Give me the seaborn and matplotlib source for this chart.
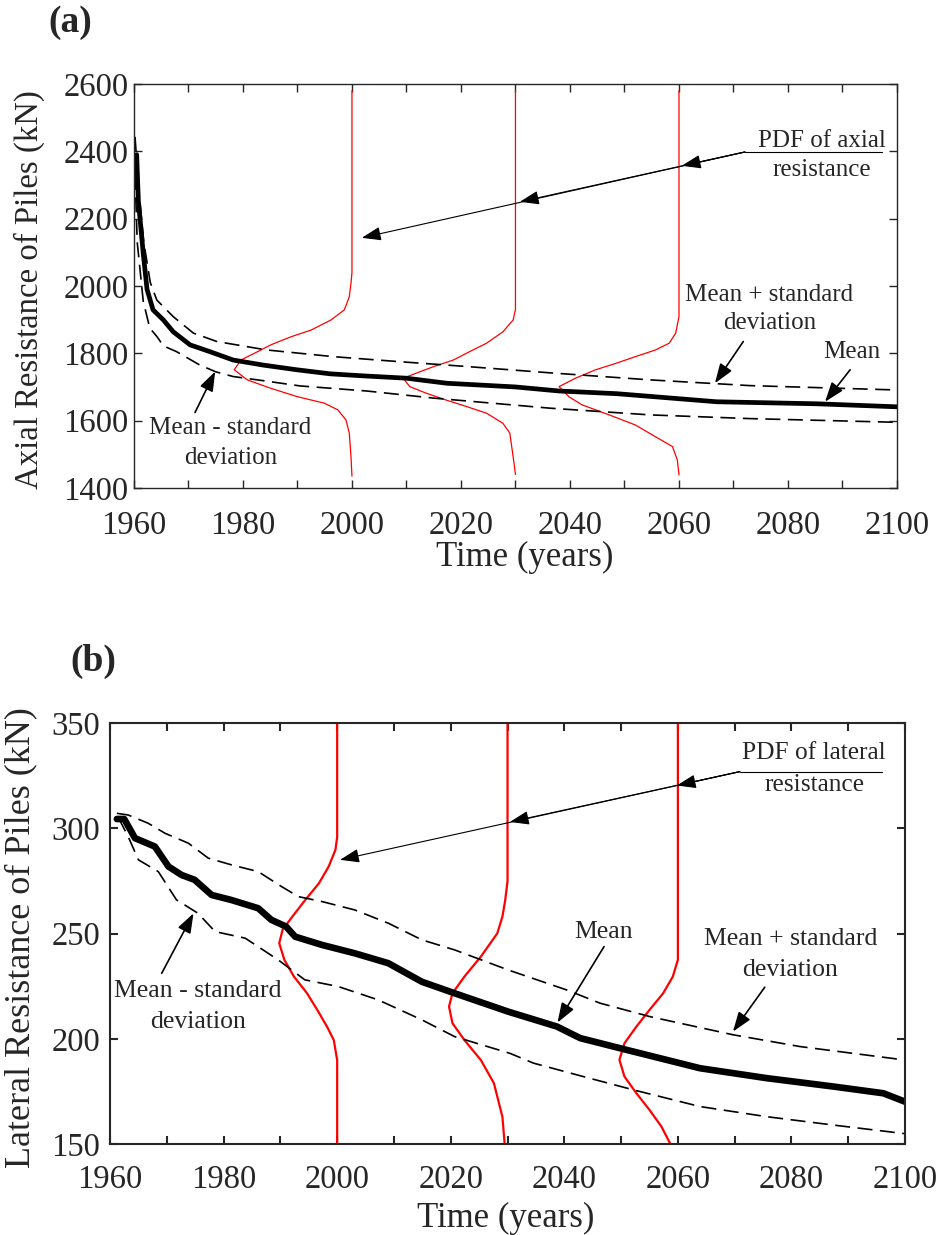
import pandas as pd
import seaborn as sns
import matplotlib.pyplot as plt

sns.set_theme(style="ticks")
plt.rcParams['font.family'] = ['Liberation Serif', 'DejaVu Serif']

# ---------------- (a) axial resistance of piles ----------------
axial_mean_year = [1960.5, 1960.8, 1961.7, 1962.4, 1963.5, 1965.4, 1967.2, 1970.3, 1973.9,
                   1978.2, 1983.7, 1989.9, 1996.0, 2002.0, 2010.0, 2017.4, 2030.0, 2038.0,
                   2048.6, 2066.9, 2085.3, 2100.0]
axial_mean_kn = [2390, 2255, 2097, 1990, 1929, 1899, 1864, 1825, 1805,
                 1780, 1765, 1751, 1739, 1733, 1726, 1711, 1700, 1688,
                 1680, 1656, 1650, 1641]

axial_upper_year = [1960.2, 1960.8, 1961.8, 1963.0, 1964.2, 1967.2, 1970.9, 1975.2, 1984.3,
                    1996.6, 2008.8, 2020.0, 2036.3, 2054.7, 2073.0, 2100.0]
axial_upper_kn = [2443, 2300, 2130, 2010, 1958, 1909, 1860, 1835, 1810,
                  1790, 1775, 1762, 1742, 1721, 1704, 1691]

axial_lower_year = [1960.2, 1960.6, 1961.7, 1962.9, 1964.2, 1965.4, 1967.8, 1972.1, 1975.0,
                    1978.2, 1984.0, 1990.5, 2002.7, 2014.9, 2036.3, 2054.7, 2073.0, 2100.0]
axial_lower_kn = [2330, 2130, 1955, 1875, 1850, 1822, 1805, 1765, 1745,
                  1731, 1718, 1703, 1688, 1667, 1637, 1617, 1606, 1595]

# PDF of axial resistance at 2000, 2030 and 2060 (resistance level, width in years)
axial_pdf_2000_kn = [1435, 1493, 1563, 1602, 1632, 1652, 1671, 1696, 1721, 1751, 1780, 1800,
                     1825, 1849, 1869, 1899, 1929, 1968, 2008, 2040, 2580]
axial_pdf_2000_w = [0, 0.18, 0.49, 1.1, 2.6, 5.1, 10.0, 14.9, 19.2, 21.6, 20.4, 17.9,
                    14.9, 11.2, 7.5, 3.85, 1.4, 0.49, 0.18, 0, 0]
axial_pdf_2030_kn = [1440, 1493, 1563, 1592, 1622, 1642, 1661, 1681, 1701, 1726, 1741, 1760,
                     1780, 1805, 1830, 1864, 1899, 1930, 2580]
axial_pdf_2030_w = [0, 0.43, 1.04, 2.3, 5.3, 9.0, 12.7, 16.3, 19.4, 20.6, 18.2, 15.1,
                    11.4, 8.4, 5.3, 2.3, 0.43, 0, 0]
axial_pdf_2060_kn = [1439, 1483, 1523, 1552, 1587, 1617, 1647, 1671, 1701, 1726, 1751, 1770,
                     1790, 1810, 1830, 1860, 1909, 2580]
axial_pdf_2060_w = [0, 0.3, 1.2, 4.3, 8.0, 12.8, 17.8, 20.2, 22.0, 19.0, 15.3, 11.6,
                    8.0, 4.3, 1.8, 0.6, 0, 0]

# ---------------- (b) lateral resistance of piles ----------------
lateral_mean_year = [1961.2, 1962.5, 1964.4, 1967.9, 1970.3, 1972.6, 1974.9, 1977.9, 1981.4,
                     1986.1, 1988.4, 1991.0, 1992.6, 1997.3, 2003.1, 2009.0, 2014.9, 2020.7,
                     2030.1, 2038.7, 2042.8, 2051.0, 2063.9, 2075.6, 2087.4, 2096.2, 2100.0]
lateral_mean_kn = [304.5, 304.5, 295.4, 291.4, 281.9, 277.9, 275.6, 268.4, 266.0,
                   262.1, 256.6, 253.4, 248.6, 244.7, 240.7, 236.0, 227.2, 221.7,
                   213.0, 205.9, 200.4, 194.8, 186.1, 181.4, 177.4, 174.2, 170.2]

lateral_upper_year = [1961.2, 1963.2, 1966.7, 1969.7, 1973.8, 1977.3, 1981.4, 1986.1, 1990.2,
                      1993.2, 1997.3, 2003.1, 2009.0, 2014.9, 2020.7, 2030.1, 2040.4, 2046.3,
                      2055.1, 2069.7, 2081.5, 2100.0]
lateral_upper_kn = [307.2, 306.4, 302.5, 297.7, 293.0, 285.9, 282.7, 279.5, 272.4,
                    267.6, 265.3, 261.3, 255.0, 247.1, 242.3, 232.8, 223.3, 217.0,
                    210.6, 202.0, 196.4, 190.0]

lateral_lower_year = [1961.5, 1963.2, 1965.0, 1968.5, 1971.7, 1975.5, 1978.5, 1983.8, 1989.6,
                      1994.3, 2000.2, 2007.2, 2014.9, 2020.7, 2030.4, 2034.6, 2043.4, 2052.2,
                      2063.9, 2075.6, 2087.4, 2100.0]
lateral_lower_kn = [305.0, 296.1, 285.1, 279.5, 266.1, 259.7, 251.0, 247.9, 237.6,
                    228.1, 224.9, 218.6, 209.1, 201.1, 193.2, 188.5, 182.1, 175.8,
                    167.9, 163.1, 159.1, 155.0]

lateral_pdf_2000_kn = [150, 190, 199.5, 205.9, 213.8, 221.7, 229.6, 237.6, 245.5, 252.0,
                       258.1, 266.1, 274.0, 281.9, 289.9, 296.0, 350]
lateral_pdf_2000_w = [0, 0, 0.6, 1.8, 3.5, 5.3, 7.6, 9.3, 10.2, 9.6,
                      7.9, 5.6, 3.2, 1.5, 0.3, 0, 0]
lateral_pdf_2030_kn = [150, 163, 179, 190, 199.5, 207.5, 215.4, 221.7, 229.6, 239.1,
                       250.2, 258.1, 266.1, 275, 350]
lateral_pdf_2030_w = [0.5, 0.9, 2.4, 4.7, 7.6, 9.7, 10.3, 9.7, 7.6, 4.7,
                      1.8, 0.9, 0.4, 0, 0]
lateral_pdf_2060_kn = [150, 158.4, 166.3, 174.2, 182.1, 190.1, 198.0, 205.9, 213.8,
                       221.7, 229.6, 237.6, 350]
lateral_pdf_2060_w = [1.3, 2.9, 5.0, 7.3, 9.4, 10.3, 9.4, 7.3, 5.0,
                      2.6, 0.9, 0, 0]

pdf_years = [2000, 2030, 2060]

INK = '#262626'
DASH = (0, (9, 4.5))


def pdf_frame(base_year, levels, widths):
    return pd.DataFrame({'Time': [base_year - w for w in widths], 'Resistance': levels})


def style_axes(ax, xlim, ylim, yticks, spine_w, xpad, ypad):
    ax.set_xlim(*xlim)
    ax.set_ylim(*ylim)
    ax.set_xticks(range(1960, 2101, 20))
    ax.set_xticks(range(1970, 2100, 20), minor=True)
    ax.set_yticks(yticks)
    for s in ax.spines.values():
        s.set_visible(True)
        s.set_color(INK)
        s.set_linewidth(spine_w)
    ax.tick_params(which='both', direction='in', top=True, right=True, length=6,
                   width=spine_w, color=INK, labelcolor=INK, labelsize=23.5)
    ax.tick_params(axis='x', which='both', pad=xpad)
    ax.tick_params(axis='y', which='both', pad=ypad)
    ax.set_xlabel('Time (years)', fontsize=25, color=INK)
    ax.set_facecolor('white')


def arrow(ax, text_xy, tip_xy, lw=1.0):
    ax.annotate('', xy=tip_xy, xytext=text_xy, xycoords='data', textcoords='data',
                arrowprops=dict(arrowstyle='-|>,head_length=0.7,head_width=0.25',
                                mutation_scale=17, color='black', lw=lw,
                                shrinkA=0, shrinkB=0))


fig = plt.figure(figsize=(9.46, 12.35), dpi=100)
fig.patch.set_facecolor('white')

# ---------------- panel (a) ----------------
ax_a = fig.add_axes([0.1416, 0.6049, 0.8066, 0.3271])
for yr, lev, wid in zip(pdf_years,
                        [axial_pdf_2000_kn, axial_pdf_2030_kn, axial_pdf_2060_kn],
                        [axial_pdf_2000_w, axial_pdf_2030_w, axial_pdf_2060_w]):
    sns.lineplot(data=pdf_frame(yr, lev, wid), x='Time', y='Resistance', sort=False,
                 estimator=None, color='red', lw=0.9, ax=ax_a)
sns.lineplot(x=axial_upper_year, y=axial_upper_kn, color='black', lw=1.2, linestyle=DASH,
             estimator=None, sort=False, ax=ax_a)
sns.lineplot(x=axial_lower_year, y=axial_lower_kn, color='black', lw=1.2, linestyle=DASH,
             estimator=None, sort=False, ax=ax_a)
sns.lineplot(x=axial_mean_year, y=axial_mean_kn, color='black', lw=3.4,
             estimator=None, sort=False, ax=ax_a, solid_joinstyle='round')
style_axes(ax_a, (1960, 2100), (1400, 2600), range(1400, 2601, 200), 1.0, 16, 4)
ax_a.set_ylabel('Axial Resistance of Piles (kN)', fontsize=23.6, color=INK)
ax_a.yaxis.set_label_coords(-0.116, 0.49)
ax_a.xaxis.set_label_coords(0.512, -0.131)

# annotations (a)
ax_a.text(2086.3, 2432, 'PDF of axial', fontsize=18, ha='center', va='center')
ax_a.text(2086.2, 2345, 'resistance', fontsize=18, ha='center', va='center')
ax_a.plot([2072.1, 2097.2], [2398, 2398], color='black', lw=0.8)
for tip in [(2060.5, 2357), (2030.8, 2250), (2001.8, 2143)]:
    arrow(ax_a, (2072.1, 2398), tip, lw=0.8)
ax_a.text(2076.5, 1973, 'Mean + standard', fontsize=18, ha='center', va='center')
ax_a.text(2076.6, 1889, 'deviation', fontsize=18, ha='center', va='center')
arrow(ax_a, (2071.8, 1835), (2066.6, 1711), lw=1.2)
ax_a.text(2091.7, 1805, 'Mean', fontsize=18, ha='center', va='center')
arrow(ax_a, (2091.4, 1751), (2086.8, 1656), lw=1.2)
ax_a.text(1977.7, 1577, 'Mean - standard', fontsize=18, ha='center', va='center')
ax_a.text(1977.7, 1488, 'deviation', fontsize=18, ha='center', va='center')
arrow(ax_a, (1971.2, 1624), (1974.9, 1746), lw=1.2)

# ---------------- panel (b) ----------------
ax_b = fig.add_axes([0.1163, 0.0735, 0.8404, 0.3409])
for yr, lev, wid in zip(pdf_years,
                        [lateral_pdf_2000_kn, lateral_pdf_2030_kn, lateral_pdf_2060_kn],
                        [lateral_pdf_2000_w, lateral_pdf_2030_w, lateral_pdf_2060_w]):
    sns.lineplot(data=pdf_frame(yr, lev, wid), x='Time', y='Resistance', sort=False,
                 estimator=None, color='red', lw=1.6, ax=ax_b)
sns.lineplot(x=lateral_upper_year, y=lateral_upper_kn, color='black', lw=1.2, linestyle=DASH,
             estimator=None, sort=False, ax=ax_b)
sns.lineplot(x=lateral_lower_year, y=lateral_lower_kn, color='black', lw=1.2, linestyle=DASH,
             estimator=None, sort=False, ax=ax_b)
sns.lineplot(x=lateral_mean_year, y=lateral_mean_kn, color='black', lw=4.8,
             estimator=None, sort=False, ax=ax_b, solid_joinstyle='round')
style_axes(ax_b, (1960, 2100), (150, 350), range(150, 351, 50), 1.5, 14.5, 7)
ax_b.set_ylabel('Lateral Resistance of Piles (kN)', fontsize=26, color=INK)
ax_b.yaxis.set_label_coords(-0.092, 0.49)
ax_b.xaxis.set_label_coords(0.498, -0.136)

# annotations (b)
ax_b.text(2084.0, 335.7, 'PDF of lateral', fontsize=18.3, ha='center', va='center')
ax_b.text(2084.1, 320.7, 'resistance', fontsize=18.3, ha='center', va='center')
ax_b.plot([2070.9, 2095.9], [327.0, 327.0], color='black', lw=0.8)
for tip in [(2059.8, 320.4), (2030.4, 303.1), (2000.5, 285.1)]:
    arrow(ax_b, (2070.9, 327.0), tip, lw=0.8)
ax_b.text(2047.0, 250.7, 'Mean', fontsize=18.5, ha='center', va='center')
arrow(ax_b, (2047.0, 243.9), (2038.8, 207.8), lw=1.2)
ax_b.text(2079.8, 247.4, 'Mean + standard', fontsize=18.5, ha='center', va='center')
ax_b.text(2079.8, 232.8, 'deviation', fontsize=18.5, ha='center', va='center')
arrow(ax_b, (2075.3, 224.6), (2069.7, 203.5), lw=1.2)
ax_b.text(1975.5, 223.0, 'Mean - standard', fontsize=18.5, ha='center', va='center')
ax_b.text(1975.5, 208.2, 'deviation', fontsize=18.5, ha='center', va='center')
arrow(ax_b, (1969.1, 231.2), (1974.7, 259.7), lw=1.2)

# panel labels
fig.text(70 / 946, 1 - 22 / 1235, '(a)', fontsize=27, fontweight='bold', ha='center', va='center')
fig.text(93.5 / 946, 1 - 661.7 / 1235, '(b)', fontsize=27, fontweight='bold', ha='center', va='center')

fig.savefig('out.png', dpi=100, facecolor='white')
